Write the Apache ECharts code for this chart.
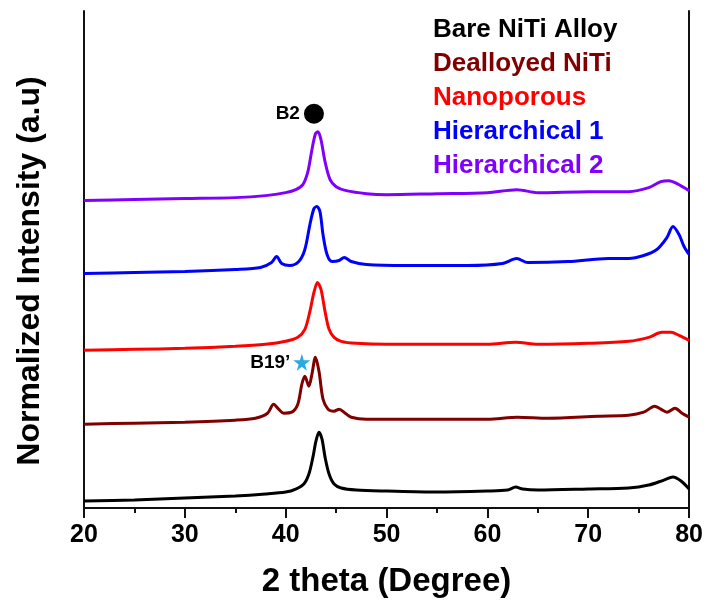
<!DOCTYPE html>
<html>
<head>
<meta charset="utf-8">
<script src="https://cdn.jsdelivr.net/npm/echarts@6/dist/echarts.min.js"></script>
<style>
  html, body { margin: 0; padding: 0; background: #fff; }
  #chart { width: 706px; height: 603px; }
</style>
</head>
<body>
<div id="chart"></div>
<script>
// XRD patterns of NiTi samples, stacked with vertical offsets (arbitrary units).
// Each point is [2θ (degree), normalized intensity + offset].
const sampleNames = ['Bare NiTi Alloy', 'Dealloyed NiTi', 'Nanoporous', 'Hierarchical 1', 'Hierarchical 2'];
const sampleColors = ['#000000', '#800000', '#ff0000', '#0000ff', '#8000ff'];

const bareNiTi = [
  [20, 7], [25, 8], [30, 10], [35, 12], [38, 14], [40, 16], [41, 19], [41.8, 24], [42.3, 34],
  [42.7, 51], [43.0, 67], [43.3, 76], [43.6, 69], [43.9, 51], [44.3, 34], [44.8, 24], [45.5, 20],
  [47, 18], [50, 17], [55, 16], [60, 17], [62, 18], [62.8, 21], [63.5, 19], [65, 18], [70, 19],
  [74, 20], [76, 23], [77.5, 28], [78.4, 31], [79.2, 27], [80, 19]
];
const dealloyedNiTi = [
  [20, 84], [25, 85], [30, 86], [35, 88], [37, 90], [38.2, 95], [38.8, 104], [39.3, 99], [39.8, 95],
  [40.6, 96], [41.2, 104], [41.6, 124], [41.9, 132], [42.3, 122], [42.6, 134], [42.95, 151],
  [43.3, 137], [43.7, 109], [44.2, 99], [44.8, 97], [45.3, 99], [45.9, 95], [46.5, 91], [48, 89],
  [55, 89], [60, 89], [63, 91], [66, 90], [71, 92], [74, 93], [75.5, 96], [76.6, 102], [77.2, 99],
  [77.8, 96], [78.6, 100], [79.3, 95], [80, 91]
];
const nanoporous = [
  [20, 158], [25, 159], [30, 160], [35, 162], [38, 164], [40, 167], [41.2, 171], [41.9, 179],
  [42.4, 197], [42.8, 216], [43.15, 226], [43.5, 219], [43.9, 197], [44.3, 179], [44.8, 171],
  [45.5, 167], [47, 165], [50, 164], [55, 164], [60, 164], [62.8, 166], [65, 164], [70, 165],
  [74, 167], [76, 171], [77.3, 176], [78.2, 176], [79, 173], [80, 168]
];
const hierarchical1 = [
  [20, 235], [25, 236], [30, 237], [35, 239], [37.5, 241], [38.6, 246], [39.1, 252], [39.6, 245],
  [40.4, 243], [41.3, 247], [41.9, 259], [42.4, 284], [42.8, 300], [43.1, 302], [43.4, 297],
  [43.7, 274], [44.1, 254], [44.6, 247], [45.3, 248], [45.8, 251], [46.5, 247], [48, 244],
  [52, 243], [58, 243], [61.5, 245], [62.9, 250], [64, 246], [68, 247], [72, 250], [74, 250],
  [75.5, 253], [76.8, 259], [77.8, 271], [78.4, 282], [79, 274], [79.5, 262], [80, 254]
];
const hierarchical2 = [
  [20, 308], [25, 309], [30, 310], [35, 311], [38, 313], [40, 316], [41, 319], [41.7, 324],
  [42.2, 337], [42.6, 359], [42.95, 375], [43.2, 377], [43.5, 369], [43.9, 347], [44.4, 329],
  [45, 322], [46, 318], [48, 315], [50, 314], [55, 315], [60, 316], [62.9, 319], [65, 316],
  [70, 317], [74, 317], [76, 321], [77.2, 327], [78, 328], [78.8, 325], [80, 318]
];
const patterns = [bareNiTi, dealloyedNiTi, nanoporous, hierarchical1, hierarchical2];

// Phase markers: B2 (austenite) and B19' (martensite)
const b2Marker = [42.8, 395];
const b19Marker = [41.6, 146];

const xTicks = { min: 20, max: 80, interval: 10 };

const starPath = 'path://M50,0 L61,35 L98,35 L68,57 L79,91 L50,70 L21,91 L32,57 L2,35 L39,35 Z';
const FONT = '"Liberation Sans", Arial, sans-serif';

const chart = echarts.init(document.getElementById('chart'));

const lineSeries = sampleNames.map((name, i) => ({
  name: name,
  type: 'line',
  data: patterns[i],
  showSymbol: false,
  smooth: 0.3,
  lineStyle: { color: sampleColors[i], width: 3 },
  itemStyle: { color: sampleColors[i] },
  z: 3
}));

chart.setOption({
  animation: false,
  backgroundColor: '#fff',
  grid: { left: 84, right: 16, top: 11, bottom: 94 },
  legend: {
    orient: 'vertical',
    left: 423,
    top: 12,
    icon: 'none',
    itemWidth: 0,
    itemHeight: 26,
    itemGap: 8,
    selectedMode: false,
    data: sampleNames.map((n, i) => ({
      name: n,
      textStyle: { color: sampleColors[i] }
    })),
    textStyle: { fontFamily: FONT, fontWeight: 'bold', fontSize: 26, lineHeight: 26 }
  },
  // Vertical axis title
  graphic: [{
    type: 'text',
    x: 30,
    y: 271,
    rotation: Math.PI / 2,
    style: {
      text: 'Normalized Intensity (a.u)',
      fontFamily: FONT,
      fontWeight: 'bold',
      fontSize: 32,
      fill: '#000',
      align: 'center',
      verticalAlign: 'middle'
    }
  }],
  xAxis: [{
    type: 'value',
    min: xTicks.min,
    max: xTicks.max,
    interval: xTicks.interval,
    name: '2 theta (Degree)',
    nameLocation: 'middle',
    nameGap: 57,
    nameTextStyle: { fontFamily: FONT, fontWeight: 'bold', fontSize: 33, color: '#000' },
    axisLine: { show: true, lineStyle: { color: '#111', width: 2 } },
    axisTick: { show: true, inside: false, length: 10, lineStyle: { color: '#111', width: 2 } },
    minorTick: { show: true, splitNumber: 2, length: 5, lineStyle: { color: '#111', width: 2 } },
    axisLabel: { fontFamily: FONT, fontWeight: 'bold', fontSize: 25, color: '#000', margin: 15 },
    splitLine: { show: false }
  }, {
    type: 'value',
    position: 'top',
    min: xTicks.min,
    max: xTicks.max,
    axisLine: { show: true, lineStyle: { color: '#111', width: 2 } },
    axisTick: { show: false },
    axisLabel: { show: false },
    splitLine: { show: false }
  }],
  yAxis: [{
    type: 'value',
    min: 0,
    max: 498,
    axisLine: { show: true, lineStyle: { color: '#111', width: 2 } },
    axisTick: { show: false },
    axisLabel: { show: false },
    splitLine: { show: false }
  }, {
    type: 'value',
    position: 'right',
    min: 0,
    max: 498,
    axisLine: { show: true, lineStyle: { color: '#111', width: 2 } },
    axisTick: { show: false },
    axisLabel: { show: false },
    splitLine: { show: false }
  }],
  series: lineSeries.concat([{
    name: 'B2',
    type: 'scatter',
    data: [b2Marker],
    symbol: 'circle',
    symbolSize: 20,
    itemStyle: { color: '#000', opacity: 1 },
    label: {
      show: true, position: 'left', distance: 4, formatter: 'B2',
      fontFamily: FONT, fontWeight: 'bold', fontSize: 19, color: '#000'
    },
    z: 5
  }, {
    name: 'B19',
    type: 'scatter',
    data: [b19Marker],
    symbol: starPath,
    symbolSize: 17,
    itemStyle: { color: '#29abe2', opacity: 1 },
    label: {
      show: true, position: 'left', distance: 3, formatter: 'B19\u2019',
      fontFamily: FONT, fontWeight: 'bold', fontSize: 19, color: '#000'
    },
    z: 5
  }])
});
</script>
</body>
</html>
